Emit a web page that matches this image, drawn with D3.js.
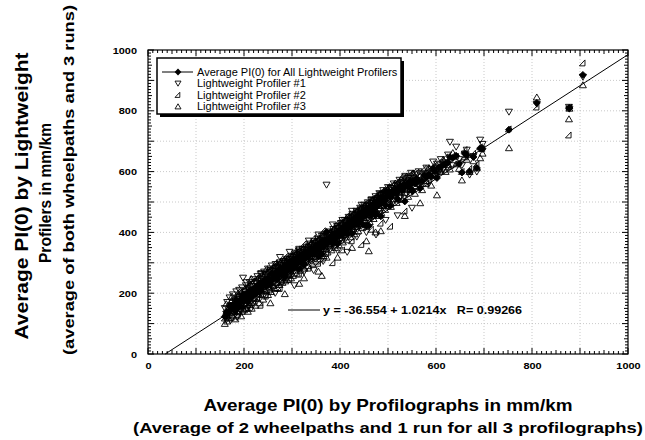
<!DOCTYPE html>
<html><head><meta charset="utf-8">
<script src="https://cdn.jsdelivr.net/npm/d3@7"></script>
<style>
body{margin:0;background:#fff;}
svg{font-family:Arial,"Liberation Sans",sans-serif;}
</style></head>
<body>
<svg id="c" width="645" height="440"></svg>
<script>
// Profilograph average PI(0) (x)
const profX = [160,163,165,168,170,172,175,177,180,182,184,186,188,190,192,194,196,198,200,202,204,206,208,210,212,214,216,218,220,222,224,226,228,230,232,234,236,238,240,242,244,246,248,250,252,254,256,258,260,262,264,266,268,270,272,274,276,278,280,282,284,286,288,290,292,294,296,298,300,302,304,306,308,310,312,314,316,318,320,322,324,326,328,330,332,334,336,338,340,342,344,346,348,350,352,354,356,358,360,362,364,366,368,370,372,374,376,378,380,382,384,386,388,390,392,394,396,398,400,402,404,406,408,410,412,414,416,418,420,422,424,426,428,430,432,434,436,438,440,442,444,446,448,450,452,454,456,458,460,462,464,466,468,470,472,474,476,478,480,482,484,486,488,490,492,494,497,500,503,506,509,512,515,518,521,524,527,530,533,536,539,542,545,548,552,556,560,564,567,571,575,580,585,590,594,598,602,606,610,615,620,625,629,635,642,648,654,660,664,670,678,685,692,697,752,810,877,878,906,
  205,215,235,245,255,265,275,285,295,305,315,325,335,345,355,365,385,395,405,415,425,435,445,455,465,475,485,495,505,520,535,550];
// Lightweight Profiler #1
const lp1 = [150,112,170,128,185,110,160,195,135,172,205,120,180,210,145,190,218,250,160,205,225,150,215,182,235,165,222,190,245,172,235,200,255,185,240,215,265,195,230,270,205,258,225,280,210,268,240,290,218,272,250,295,225,285,262,300,240,292,268,305,245,298,275,312,258,310,282,322,270,318,295,330,265,325,300,340,285,335,312,345,290,340,322,352,300,350,328,362,305,358,335,370,312,365,345,378,320,372,352,388,328,382,360,395,556,390,368,402,345,398,378,410,352,405,385,420,362,415,395,430,372,425,405,440,380,435,412,450,390,445,422,460,400,455,432,470,410,465,442,480,420,475,452,490,430,485,462,498,440,495,470,508,450,505,482,518,460,512,492,528,470,522,500,538,480,530,533,548,490,545,520,560,505,555,532,572,515,565,542,585,525,578,552,595,535,590,562,600,548,595,575,612,560,608,632,585,625,598,640,605,628,655,697,620,681,640,620,658,671,589,650,599,704,690,796,822,812,806,911,
  235,150,262,190,275,200,318,250,335,225,345,270,372,275,392,305,425,340,440,335,470,385,490,400,505,392,525,440,545,455,580,480];
// Lightweight Profiler #2
const lp2 = [118,140,125,160,150,175,120,165,185,140,158,190,130,175,205,150,182,140,210,165,195,220,160,230,175,215,190,240,170,225,200,250,182,235,205,262,195,245,263,215,255,190,270,232,262,210,282,245,275,225,292,248,280,235,298,255,290,238,305,270,295,250,312,268,305,285,320,262,315,290,330,275,318,300,338,290,325,305,345,295,335,318,352,305,345,325,360,312,352,335,368,320,360,342,375,330,368,350,385,340,378,358,392,345,330,370,400,355,392,375,410,365,400,385,418,372,410,395,428,382,420,405,438,392,430,415,448,402,440,425,458,410,450,435,468,420,460,445,478,430,470,455,488,440,480,465,498,450,488,475,505,460,498,485,515,470,508,495,525,480,518,505,535,490,528,512,545,500,540,522,558,510,550,535,570,520,562,545,580,530,572,555,590,540,585,565,598,550,590,572,610,560,605,585,612,622,590,630,600,625,648,615,640,652,650,628,600,672,655,610,660,625,681,675,740,812,720,812,957,
  180,200,160,280,240,300,215,318,245,338,262,362,282,382,298,405,300,432,342,455,372,475,360,492,410,515,430,540,420,565,470,595];
// Lightweight Profiler #3
const lp3 = [100,165,108,118,135,150,190,125,158,115,170,142,200,138,170,125,160,195,145,215,150,180,140,205,162,228,150,205,185,240,160,215,198,250,168,225,210,258,180,232,265,220,245,195,275,235,205,260,250,285,215,262,290,218,270,228,300,262,235,285,310,240,288,245,315,262,295,250,320,258,305,290,330,265,312,298,340,275,320,305,348,282,330,315,355,290,338,322,362,298,345,330,372,305,352,338,380,312,360,258,388,322,368,355,318,335,375,362,402,342,385,372,412,350,392,380,422,358,402,390,432,368,412,400,442,375,420,410,452,385,430,420,462,395,440,430,472,405,450,440,482,415,460,448,490,425,470,458,339,435,480,468,508,445,490,401,518,455,500,488,528,465,510,498,538,475,520,510,550,485,530,520,562,498,540,530,575,508,552,540,585,518,562,550,595,528,572,560,497,540,582,570,612,555,590,595,523,610,605,640,600,622,608,662,625,610,572,648,640,600,635,612,645,660,678,845,773,808,885,
  150,248,215,230,168,250,262,198,285,290,232,250,320,335,272,352,370,318,395,400,350,425,438,372,455,468,405,488,498,510,455,540];
// Average of all lightweight profilers
const avgLP = [123,139,134,135,157,145,157,162,159,142,178,151,170,174,173,155,187,195,172,195,190,183,172,206,191,203,187,212,200,212,198,222,212,223,204,234,223,233,224,239,242,223,247,236,249,238,242,265,248,261,252,268,265,246,277,261,277,264,269,287,283,263,292,275,293,286,299,278,302,289,310,298,304,297,317,309,317,305,326,315,324,313,335,324,333,322,342,332,340,330,349,340,348,337,357,349,356,345,366,329,365,354,373,365,401,365,381,373,380,372,391,382,388,380,398,391,398,389,408,401,408,399,418,411,417,408,427,421,427,418,437,430,437,428,447,440,447,438,457,450,457,448,467,459,467,458,477,469,422,468,485,479,485,478,496,463,495,487,506,499,505,497,515,509,515,506,533,519,527,517,536,530,539,529,547,541,551,539,558,552,561,550,568,562,572,561,577,570,545,569,589,581,592,583,611,601,579,613,615,623,625,631,648,645,652,626,597,659,655,600,648,612,677,675,738,826,809,809,918,
  188,199,212,233,228,250,265,255,288,284,280,294,325,331,321,354,365,363,392,397,397,428,429,421,457,458,453,489,488,510,502,538];

const xTicks = [0,200,400,600,800,1000];
const yTicks = [0,200,400,600,800,1000];
const fitB0 = -36.554, fitB1 = 1.0214;
const eqText = "y = -36.554 + 1.0214x   R= 0.99266";
const legendLabels = ["Average PI(0) for All Lightweight Profilers","Lightweight Profiler #1","Lightweight Profiler #2","Lightweight Profiler #3"];
const xTitle = "Average PI(0) by Profilographs in mm/km";
const xSub = "(Average of 2 wheelpaths and 1 run for all 3 profilographs)";
const yTitles = ["Average PI(0) by Lightweight","Profilers in mm/km","(average of both wheelpaths and 3 runs)"];

const svg = d3.select("#c");
const L = 148, R = 628, T = 50, B = 354;
const x = d3.scaleLinear().domain([0,1000]).range([L,R]);
const y = d3.scaleLinear().domain([0,1000]).range([B,T]);

function stretch(sel, f){
  sel.each(function(){
    const w = this.getComputedTextLength();
    d3.select(this).attr("textLength", w*f).attr("lengthAdjust","spacingAndGlyphs");
  });
}

// grid
const g = svg.append("g");
d3.range(100,1000,100).forEach(v=>{
  g.append("line").attr("x1",x(v)).attr("x2",x(v)).attr("y1",T).attr("y2",B)
   .attr("stroke","#bbb").attr("stroke-width",0.8).attr("stroke-dasharray","1,2");
  g.append("line").attr("y1",y(v)).attr("y2",y(v)).attr("x1",L).attr("x2",R)
   .attr("stroke","#bbb").attr("stroke-width",0.8).attr("stroke-dasharray","1,2");
});

// ticks (inward on all four sides)
const tk = svg.append("g").attr("stroke","#000").attr("stroke-width",1);
d3.range(0,1001,10).forEach(v=>{
  const len = v%100===0 ? 6 : (v%50===0 ? 4 : 3);
  tk.append("line").attr("x1",x(v)).attr("x2",x(v)).attr("y1",B).attr("y2",B-len);
  tk.append("line").attr("x1",x(v)).attr("x2",x(v)).attr("y1",T).attr("y2",T+len);
  tk.append("line").attr("y1",y(v)).attr("y2",y(v)).attr("x1",L).attr("x2",L+len);
  tk.append("line").attr("y1",y(v)).attr("y2",y(v)).attr("x1",R).attr("x2",R-len);
});

// frame
svg.append("rect").attr("x",L).attr("y",T).attr("width",R-L).attr("height",B-T)
  .attr("fill","none").attr("stroke","#000").attr("stroke-width",1.2);

// axis labels
const fmt = d3.format("d");
const xa = d3.axisBottom(x).tickValues(xTicks).tickFormat(fmt).tickSize(0).tickPadding(8);
svg.append("g").attr("transform",`translate(0,${B})`).call(xa)
  .call(s=>s.select(".domain").remove())
  .selectAll("text").attr("font-size","9.5px").attr("font-weight","bold").attr("font-family","Arial,'Liberation Sans',sans-serif")
  .call(s=>stretch(s,1.15));
const ya = d3.axisLeft(y).tickValues(yTicks).tickFormat(fmt).tickSize(0).tickPadding(11);
svg.append("g").attr("transform",`translate(${L},0)`).call(ya)
  .call(s=>s.select(".domain").remove())
  .selectAll("text").attr("font-size","9.5px").attr("font-weight","bold").attr("font-family","Arial,'Liberation Sans',sans-serif")
  .call(s=>stretch(s,1.15));

// regression line
const x0 = -fitB0/fitB1;
svg.append("line").attr("x1",x(x0)).attr("y1",y(0)).attr("x2",x(1000)).attr("y2",y(fitB0+fitB1*1000))
  .attr("stroke","#000").attr("stroke-width",1);

// markers
const sym = {
  down: s=>`M${-s},${-s*0.8}L${s},${-s*0.8}L0,${s*0.9}Z`,
  up: s=>`M${-s},${s*0.8}L${s},${s*0.8}L0,${-s*0.9}Z`,
  right: s=>`M${-s},${s*0.8}L${s*0.6},${s*0.8}L${s*0.6},${-s*0.9}Z`,
  diamond: s=>`M0,${-s}L${s},0L0,${s}L${-s},0Z`
};
const pts = svg.append("g");
function series(vals, shape, fill){
  pts.append("g").selectAll("path").data(profX.map((v,i)=>[v,vals[i]])).join("path")
    .attr("transform",d=>`translate(${x(d[0])},${y(d[1])})`)
    .attr("d",sym[shape](3.5))
    .attr("fill",fill).attr("stroke","#000").attr("stroke-width",0.9);
}
series(avgLP,"diamond","#000");
series(lp1,"down","none");
series(lp2,"right","none");
series(lp3,"up","none");

// equation annotation
svg.append("line").attr("x1",288).attr("x2",320).attr("y1",310).attr("y2",310).attr("stroke","#000").attr("stroke-width",1);
svg.append("text").attr("x",323).attr("y",314).attr("font-size","11px").attr("font-weight","bold")
  .style("white-space","pre").text(eqText).call(s=>stretch(s,1.14));

// legend
const lg = svg.append("g");
lg.append("rect").attr("x",160).attr("y",61).attr("width",244).attr("height",56).attr("fill","#000");
lg.append("rect").attr("x",157).attr("y",58).attr("width",244).attr("height",56).attr("fill","#fff").attr("stroke","#000").attr("stroke-width",1.5);
const ly = [72,83.5,95,106.5];
lg.append("line").attr("x1",162).attr("x2",193).attr("y1",ly[0]).attr("y2",ly[0]).attr("stroke","#000");
lg.append("path").attr("transform",`translate(178,${ly[0]})`).attr("d",sym.diamond(3.4)).attr("fill","#000");
["down","right","up"].forEach((s,i)=>{
  lg.append("path").attr("transform",`translate(178,${ly[i+1]})`).attr("d",sym[s](3)).attr("fill","none").attr("stroke","#000").attr("stroke-width",0.9);
});
legendLabels.forEach((t,i)=>{
  lg.append("text").attr("x",197).attr("y",ly[i]+3.5).attr("font-size","10px").text(t).call(s=>stretch(s,1.1));
});

// axis titles
svg.append("text").attr("x",388).attr("y",411).attr("text-anchor","middle").attr("font-size","17px").attr("font-weight","bold")
  .text(xTitle).attr("textLength",369).attr("lengthAdjust","spacingAndGlyphs");
svg.append("text").attr("x",388).attr("y",433).attr("text-anchor","middle").attr("font-size","15px").attr("font-weight","bold")
  .text(xSub).attr("textLength",510).attr("lengthAdjust","spacingAndGlyphs");
const yt = [
  {x:28, c:196, s:18, len:287},
  {x:51, c:193, s:16.5, len:140},
  {x:74, c:180, s:15, len:350}
];
yt.forEach((d,i)=>{
  svg.append("text").attr("transform",`translate(${d.x},${d.c}) rotate(-90)`).attr("text-anchor","middle")
    .attr("font-size",d.s+"px").attr("font-weight","bold").text(yTitles[i])
    .attr("textLength",d.len).attr("lengthAdjust","spacingAndGlyphs");
});
</script>
</body></html>
